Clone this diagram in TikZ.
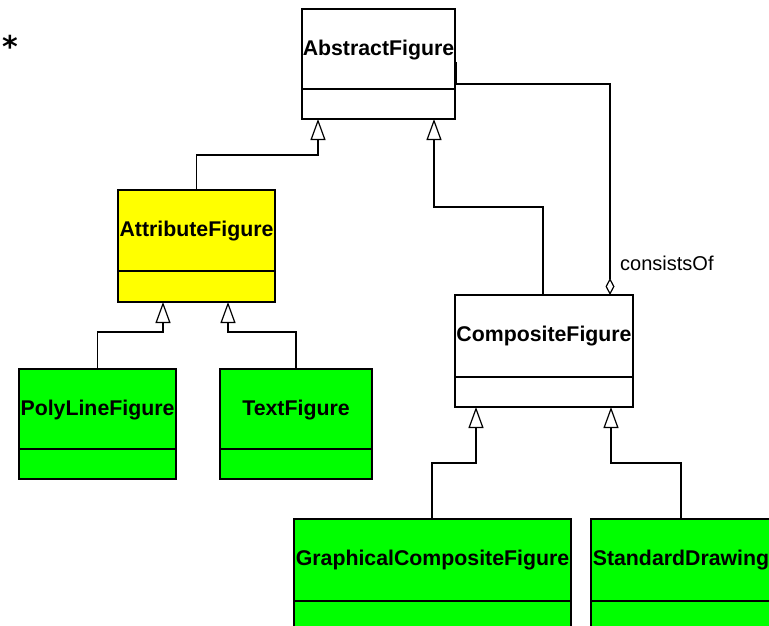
\documentclass[tikz,border=0pt]{standalone}
\usepackage{fontspec}
\setmainfont{Liberation Sans}
\newfontfamily\starfont{DejaVu Sans}
\usetikzlibrary{arrows.meta}
\definecolor{umlyellow}{RGB}{255,255,0}
\definecolor{umlgreen}{RGB}{0,255,0}
% class box: name, x, y (top left), width, height, divider offset, fill, title
\newcommand\classbox[8]{%
  \node[box, fill=#7, minimum width=#4pt, minimum height=#5pt] (#1) at (#2,#3) {};
  \draw[line width=1.2pt] ([yshift=-#6pt]#1.north west) -- ([yshift=-#6pt]#1.north east);
  \node[title] (#1-name) at ([yshift=-46.5pt]#1.north) {#8};
}
\begin{document}
\begin{tikzpicture}[x=1pt,y=-1pt,
  box/.style={draw, line width=1.2pt, inner sep=0pt, outer sep=0pt, anchor=north west},
  title/.style={anchor=base, font=\fontsize{21.3}{25}\selectfont\bfseries, inner sep=0pt},
  gen/.style={line width=1.2pt, -{Triangle[open, fill=white, length=21pt, width=15pt]}},
  agg/.style={line width=1.2pt, -{Diamond[open, fill=white, length=17pt, width=9pt]}},
]
\useasboundingbox (0,0) rectangle (769,626);
\clip (0,0) rectangle (769,626);

\classbox{abs}{302}{9}{153}{110}{80}{white}{AbstractFigure}
\classbox{attr}{118}{190}{157}{112}{81}{umlyellow}{AttributeFigure}
\classbox{comp}{455}{295}{178}{112}{82}{white}{CompositeFigure}
\classbox{poly}{19}{369}{157}{110}{80}{umlgreen}{PolyLineFigure}
\classbox{text}{220}{369}{152}{110}{80}{umlgreen}{TextFigure}
\classbox{gcf}{294}{519}{277}{130}{82}{umlgreen}{GraphicalCompositeFigure}
\classbox{std}{591}{519}{180}{130}{82}{umlgreen}{StandardDrawing}

% marker on the right edge of AbstractFigure
\draw[line width=3pt] (abs.east |- 0,62) -- (abs.east |- 0,84);

% generalizations
\draw[gen] (attr.north) |- (318,155) -- (abs.south -| 318,0);
\draw[gen] (comp.north -| 543,0) |- (434,207) -- (abs.south -| 434,0);
\draw[gen] (poly.north) |- (163,332) -- (attr.south -| 163,0);
\draw[gen] (text.north) |- (228,332) -- (attr.south -| 228,0);
\draw[gen] (gcf.north -| 432,0) |- (476,463) -- (comp.south -| 476,0);
\draw[gen] (std.north) |- (611,463) -- (comp.south -| 611,0);

% aggregation
\draw[agg] (abs.east |- 0,84) -| (comp.north -| 610,0);
\node[anchor=base west, font=\fontsize{20}{24}\selectfont, inner sep=0pt] (role) at (620,270) {consistsOf};

\node[font=\starfont\fontsize{30}{32}\selectfont\bfseries, inner sep=0pt] (star) at (10,46) {*};
\end{tikzpicture}
\end{document}
